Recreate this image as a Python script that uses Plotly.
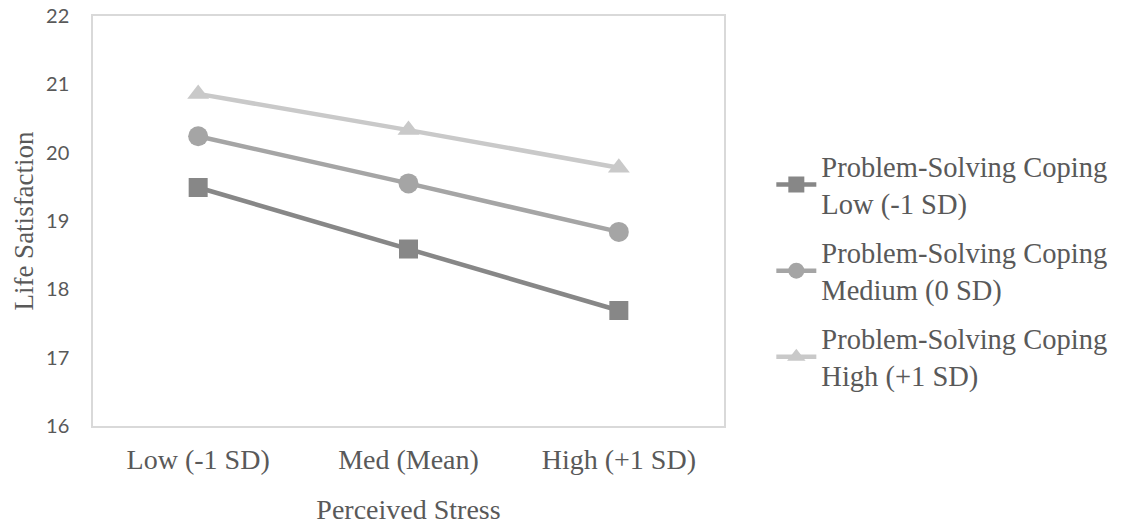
import plotly.graph_objects as go

categories = ["Low (-1 SD)", "Med (Mean)", "High (+1 SD)"]
series_names = ["Problem-Solving Coping<br>Low (-1 SD)",
                "Problem-Solving Coping<br>Medium (0 SD)",
                "Problem-Solving Coping<br>High (+1 SD)"]
low_values = [19.49, 18.59, 17.69]
medium_values = [20.24, 19.55, 18.84]
high_values = [20.86, 20.33, 19.78]
y_ticks = [16, 17, 18, 19, 20, 21, 22]

colors = ["#878787", "#a5a5a5", "#c9c9c9"]
symbols = ["square", "circle", "triangle-up"]

fig = go.Figure()
for i, (name, vals, c, s) in enumerate(zip(series_names, [low_values, medium_values, high_values], colors, symbols)):
    fig.add_trace(go.Scatter(
        x=categories, y=vals, name=name, mode="lines+markers",
        legendgroup=f"g{i}",
        line=dict(color=c, width=4.5),
        marker=dict(symbol=s, size=19 if s != "circle" else 20, color=c),
    ))

serif = "Liberation Serif, Times New Roman, serif"
fig.update_layout(
    width=1127, height=531,
    margin=dict(l=93, r=403, t=16, b=105),
    plot_bgcolor="white", paper_bgcolor="white",
    showlegend=True,
    legend=dict(x=1.075, y=0.695, xanchor="left", yanchor="top",
                font=dict(family=serif, size=28.5, color="#595959"),
                itemwidth=40, tracegroupgap=9,
                bgcolor="rgba(0,0,0,0)"),
    xaxis=dict(
        type="category", range=[-0.5, 2.5], automargin=False,
        showgrid=False, zeroline=False,
        showline=True, linecolor="#d9d9d9", linewidth=1.5, mirror=True,
        ticks="", ticklabelstandoff=8,
        tickfont=dict(family=serif, size=28, color="#595959"),
        title=dict(text="Perceived Stress", font=dict(family=serif, size=28, color="#595959"), standoff=25),
    ),
    yaxis=dict(
        range=[16, 22], tickvals=y_ticks, automargin=False,
        ticklabeloverflow="allow",
        showgrid=False, zeroline=False,
        showline=True, linecolor="#d9d9d9", linewidth=1.5, mirror=True,
        ticks="", ticklabelstandoff=18,
        tickfont=dict(family="Lato, Carlito, sans-serif", size=20, color="#595959"),
        title=dict(text="Life Satisfaction", font=dict(family=serif, size=27, color="#595959"), standoff=5),
    ),
)

fig.write_html("out.html", config={"displayModeBar": False},
               post_script="document.body.style.margin='0px';")
